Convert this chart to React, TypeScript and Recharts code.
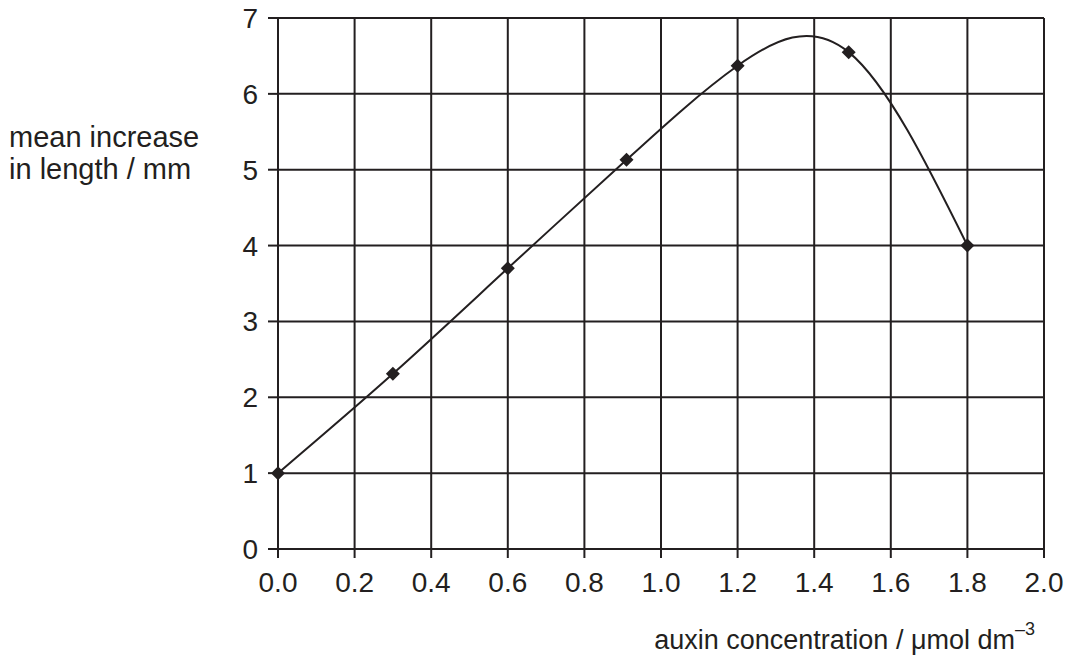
import { CartesianGrid, Line, LineChart, XAxis, YAxis } from "recharts";

const concentration = [0, 0.3, 0.6, 0.91, 1.2, 1.49, 1.8];
const meanIncrease = [1.0, 2.31, 3.7, 5.13, 6.37, 6.55, 4.0];
const xTicks = [0, 0.2, 0.4, 0.6, 0.8, 1.0, 1.2, 1.4, 1.6, 1.8, 2.0];
const yTicks = [0, 1, 2, 3, 4, 5, 6, 7];

const ink = "#231f20";
const font = "'Liberation Sans', Arial, sans-serif";

const data = concentration.map((x, i) => ({ x, y: meanIncrease[i] }));

function Diamond(props: { cx?: number; cy?: number; index?: number }) {
  const { cx, cy, index } = props;
  if (cx == null || cy == null) return null;
  const r = 7;
  return (
    <path
      key={`d-${index}`}
      d={`M${cx},${cy - r}L${cx + r},${cy}L${cx},${cy + r}L${cx - r},${cy}Z`}
      fill={ink}
      stroke="none"
    />
  );
}

export default function App() {
  return (
    <div style={{ position: "absolute", left: 0, top: 0, width: 1067, height: 657, background: "#fff", fontFamily: font }}>
      <LineChart width={1067} height={657} data={data} margin={{ top: 18, right: 23, bottom: 68, left: 218 }}>
        <CartesianGrid stroke={ink} strokeWidth={2} strokeOpacity={1} />
        <XAxis
          type="number"
          dataKey="x"
          domain={[0, 2]}
          ticks={xTicks}
          tickFormatter={(v: number) => v.toFixed(1)}
          height={40}
          tickSize={9}
          tickMargin={14}
          stroke={ink}
          strokeWidth={2}
          tick={{ fill: ink, fontSize: 28, fontFamily: font }}
        />
        <YAxis
          type="number"
          domain={[0, 7]}
          ticks={yTicks}
          width={60}
          tickSize={10}
          tickMargin={10}
          stroke={ink}
          strokeWidth={2}
          tick={{ fill: ink, fontSize: 28, fontFamily: font }}
        />
        <Line
          type="natural"
          dataKey="y"
          stroke={ink}
          strokeWidth={2}
          dot={<Diamond />}
          activeDot={false}
          isAnimationActive={false}
        />
      </LineChart>
      <div style={{ position: "absolute", left: 9, top: 121, fontSize: 29, lineHeight: "32px", color: ink, whiteSpace: "nowrap" }}>
        mean increase
        <br />
        in length / mm
      </div>
      <div style={{ position: "absolute", right: 32, top: 626, fontSize: 27, lineHeight: "28px", color: ink, whiteSpace: "nowrap" }}>
        auxin concentration / μmol dm
        <sup style={{ fontSize: 18, lineHeight: 0, position: "relative", top: -4 }}>–3</sup>
      </div>
    </div>
  );
}
